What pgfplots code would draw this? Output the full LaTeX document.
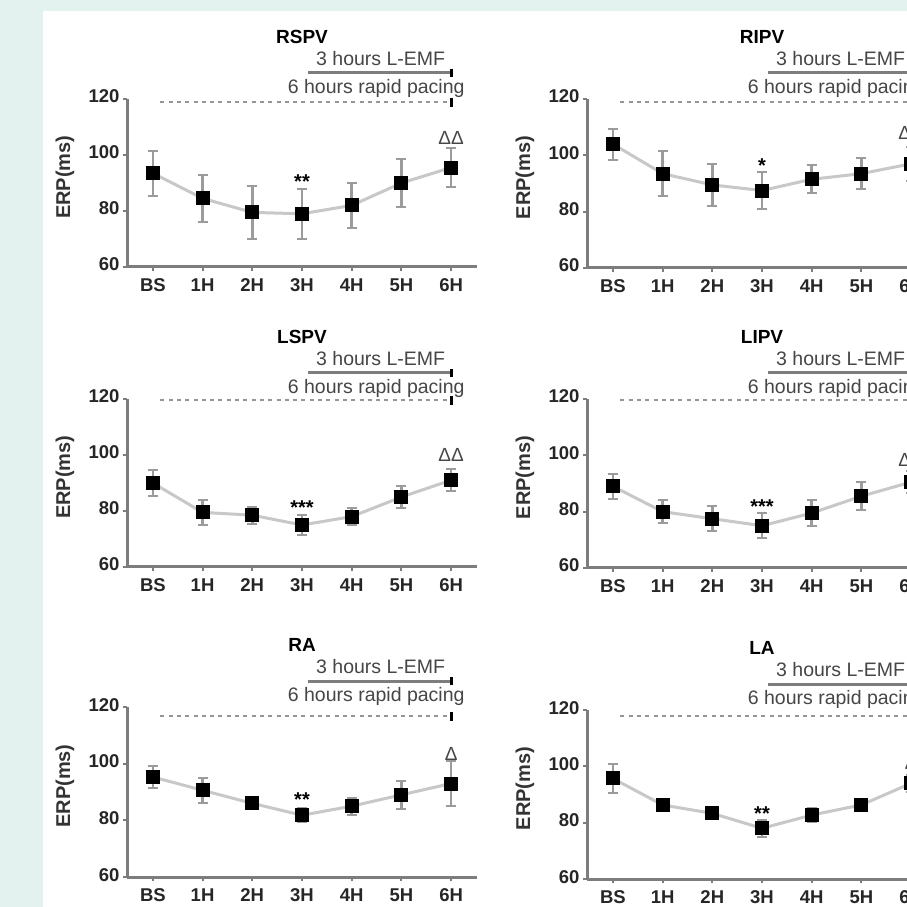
\documentclass[border=0pt]{standalone}
\usepackage{fontspec}
\setmainfont{Liberation Sans}
\usepackage{pgfplots}
\pgfplotsset{compat=1.18}

\definecolor{bgteal}{RGB}{228,242,239}
\definecolor{axgray}{RGB}{125,125,125}
\definecolor{linegray}{RGB}{200,200,200}
\definecolor{errgray}{RGB}{155,155,155}
\definecolor{txtgray}{RGB}{70,70,70}
\definecolor{dotgray}{RGB}{150,150,150}

\pgfplotsset{
  erpaxis/.style={
    scale only axis, width=350pt, clip=false, anchor=south west,
    xmin=-0.52, xmax=6.52, ymin=60, ymax=120,
    axis lines=left, axis line style={-, axgray, line width=3pt},
    xtick={0,...,6}, xticklabels={BS,1H,2H,3H,4H,5H,6H},
    ytick={60,80,100,120}, yticklabels={60,80,100,120},
    tick align=outside, major tick length=4pt,
    tick style={axgray, line width=2pt},
    typeset ticklabels with strut,
    ticklabel style={font=\fontsize{18.5}{20}\selectfont\bfseries, text=black!85},
    xticklabel style={yshift=-3pt},
  },
  erpplot/.style={
    linegray, line width=3pt, mark=square*, mark size=5.5pt,
    mark options={black, solid},
    error bars/.cd, y dir=both, y explicit,
    error bar style={errgray, line width=2.5pt},
    error mark options={errgray, rotate=90, mark size=5pt, line width=2pt},
  },
}

% title, L-EMF bar, pacing bar; #1 title, #2 dotted line offset
\newcommand{\annot}[2]{%
  \node[font=\fontsize{19}{21}\selectfont\bfseries] at ([yshift=62pt]axis cs:3,120) {#1};
  \node[anchor=east, text=txtgray, font=\fontsize{19.5}{21}\selectfont] at ([yshift=40pt]axis cs:5.95,120) {3 hours L-EMF};
  \draw[axgray, line width=3pt] ([yshift=26pt]axis cs:3.12,120) -- ([yshift=26pt]axis cs:6,120);
  \draw[black, line width=3pt] ([yshift=22pt]axis cs:6,120) -- ([yshift=30pt]axis cs:6,120);
  \node[anchor=east, text=txtgray, font=\fontsize{19.5}{21}\selectfont] at ([yshift=11pt]axis cs:6.34,120) {6 hours rapid pacing};
  \draw[dotgray, line width=2pt, dash pattern=on 4pt off 4.3pt] ([yshift=#2]axis cs:0.15,120) -- ([yshift=#2]axis cs:5.98,120);
  \draw[black, line width=3pt] ([yshift=#2+4pt]axis cs:6,120) -- ([yshift=#2-5pt]axis cs:6,120);
  \node[rotate=90, font=\fontsize{20}{22}\selectfont\bfseries, text=black!80] at ([xshift=-62pt]rel axis cs:0,0.535) {ERP(ms)};
}
\newcommand{\sig}[4]{%
  \node[font=\fontsize{20}{22}\selectfont\bfseries] at (axis cs:3,#1) {#2};
  \node[text=txtgray, font=\fontsize{19}{21}\selectfont] at (axis cs:6,#3) {#4};
}

\begin{document}
\begin{tikzpicture}
\useasboundingbox (0,0) rectangle (907pt,907pt);
\clip (0,0) rectangle (907pt,907pt);
\fill[bgteal] (0,0) rectangle (907pt,907pt);
\fill[white] (43pt,0) rectangle (907pt,896pt);

% RSPV
\begin{axis}[erpaxis, at={(127pt,640pt)}, height=168pt]
\addplot[erpplot] table[x=x, y=y, y error=e, row sep=\\] {
x y e \\ 0 93.5 8 \\ 1 84.5 8.5 \\ 2 79.5 9.5 \\ 3 79 9 \\ 4 82 8 \\ 5 90 8.5 \\ 6 95.5 7 \\
};
\annot{RSPV}{-2.7pt}
\sig{90.4}{**}{106}{ΔΔ}
\end{axis}

% RIPV
\begin{axis}[erpaxis, at={(587pt,639pt)}, height=169pt]
\addplot[erpplot] table[x=x, y=y, y error=e, row sep=\\] {
x y e \\ 0 104 5.5 \\ 1 93.5 8 \\ 2 89.5 7.5 \\ 3 87.5 6.5 \\ 4 91.5 5 \\ 5 93.5 5.5 \\ 6 97 6 \\
};
\annot{RIPV}{-2.7pt}
\sig{96.3}{*}{108}{ΔΔ}
\end{axis}

% LSPV
\begin{axis}[erpaxis, at={(127pt,340pt)}, height=168pt]
\addplot[erpplot] table[x=x, y=y, y error=e, row sep=\\] {
x y e \\ 0 90 4.5 \\ 1 79.5 4.5 \\ 2 78.5 3 \\ 3 75 3.5 \\ 4 78 3 \\ 5 85 4 \\ 6 91 4 \\
};
\annot{LSPV}{-1pt}
\sig{81.3}{***}{100}{ΔΔ}
\end{axis}

% LIPV
\begin{axis}[erpaxis, at={(587pt,339pt)}, height=169pt]
\addplot[erpplot] table[x=x, y=y, y error=e, row sep=\\] {
x y e \\ 0 89 4.5 \\ 1 80 4 \\ 2 77.5 4.5 \\ 3 75 4.5 \\ 4 79.5 4.5 \\ 5 85.5 5 \\ 6 90.5 4 \\
};
\annot{LIPV}{-1pt}
\sig{81.8}{***}{98.5}{ΔΔ}
\end{axis}

% RA
\begin{axis}[erpaxis, at={(127pt,30pt)}, height=170pt]
\addplot[erpplot] table[x=x, y=y, y error=e, row sep=\\] {
x y e \\ 0 95.3 3.8 \\ 1 90.6 4.5 \\ 2 86 2 \\ 3 81.8 2.5 \\ 4 85 3 \\ 5 89 5 \\ 6 93 8 \\
};
\annot{RA}{-9pt}
\sig{87.4}{**}{103.6}{Δ}
\end{axis}

% LA
\begin{axis}[erpaxis, at={(587pt,28pt)}, height=169pt]
\addplot[erpplot] table[x=x, y=y, y error=e, row sep=\\] {
x y e \\ 0 95.7 5.3 \\ 1 86.3 2 \\ 2 83.3 2 \\ 3 78 3 \\ 4 82.7 2.5 \\ 5 86.3 2 \\ 6 94 3 \\
};
\annot{LA}{-6pt}
\sig{83.1}{**}{101.2}{Δ}
\end{axis}
\end{tikzpicture}
\end{document}
